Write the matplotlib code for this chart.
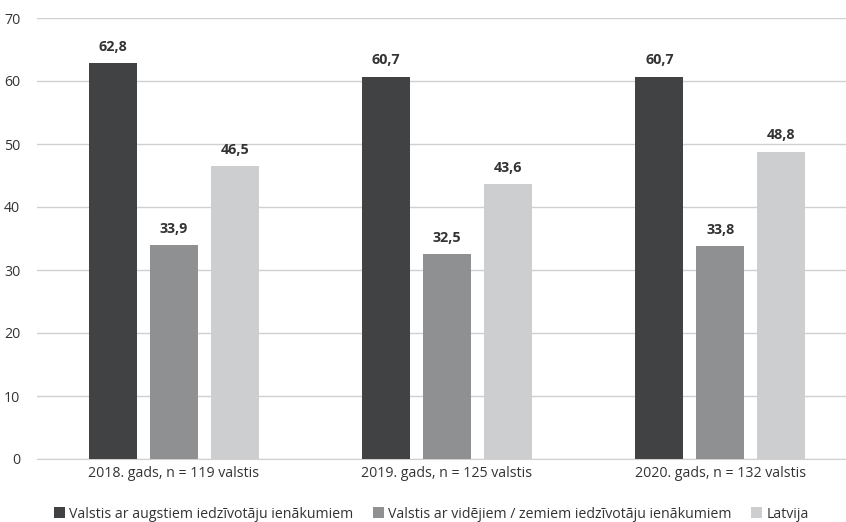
import matplotlib
matplotlib.use("Agg")
import matplotlib.pyplot as plt
import numpy as np

plt.rcParams['font.family'] = ['Open Sans', 'DejaVu Sans']

years = ["2018. gads, n = 119 valstis", "2019. gads, n = 125 valstis", "2020. gads, n = 132 valstis"]
series_names = ["Valstis ar augstiem iedzīvotāju ienākumiem",
                "Valstis ar vidējiem / zemiem iedzīvotāju ienākumiem",
                "Latvija"]
high_income = [62.8, 60.7, 60.7]
mid_low_income = [33.9, 32.5, 33.8]
latvia = [46.5, 43.6, 48.8]
colors = ["#414244", "#8f9092", "#cdcecf"]
text_color = "#333333"

fig = plt.figure(figsize=(8.46, 5.22), dpi=100)
ax = fig.add_axes([37 / 846, 1 - 459 / 522, 1 - 37 / 846, (459 - 18) / 522])

x = np.arange(len(years))
width = 0.176
step = 0.223
for i, (vals, name, c) in enumerate(zip([high_income, mid_low_income, latvia], series_names, colors)):
    bars = ax.bar(x + (i - 1) * step, vals, width, color=c, label=name, zorder=3)
    for b, v in zip(bars, vals):
        ax.text(b.get_x() + b.get_width() / 2, v + 1.5, f"{v:.1f}".replace(".", ","),
                ha="center", va="bottom", fontsize=10.3, fontweight="bold", color=text_color)

ax.set_ylim(0, 70)
ax.set_xlim(-0.5, 2.46)
ax.set_yticks(range(0, 71, 10))
ax.yaxis.grid(True, color="#d0d0d0", linewidth=1.0, zorder=0)
ax.set_xticks(x)
ax.set_xticklabels(years)
ax.tick_params(axis="both", length=0, labelsize=10.2, colors=text_color)
ax.tick_params(axis="y", pad=12)
ax.tick_params(axis="x", pad=5)
for s in ["top", "right", "left"]:
    ax.spines[s].set_visible(False)
ax.spines["bottom"].set_color("#d0d0d0")

fig.legend(loc="center", bbox_to_anchor=(0.51, 1 - 514 / 522), ncol=3, frameon=False,
           fontsize=10.2, handlelength=0.75, handleheight=0.75, handletextpad=0.3,
           columnspacing=1.4, labelcolor=text_color)

fig.savefig("out.png", dpi=100)
